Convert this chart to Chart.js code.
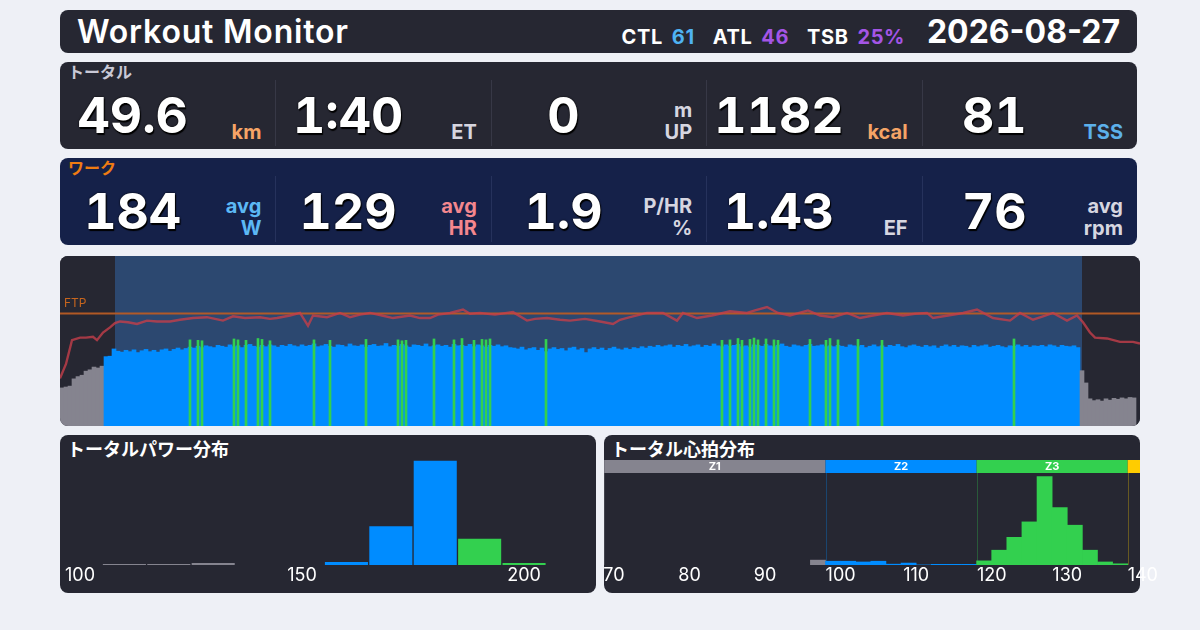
<!DOCTYPE html>
<html lang="ja">
<head>
<meta charset="utf-8">
<title>Workout Monitor</title>
<script src="https://cdn.jsdelivr.net/npm/chart.js@4.4.1/dist/chart.umd.min.js"></script>
<style>
  body { margin:0; width:1200px; height:630px; background:#eef0f6; position:relative; overflow:hidden;
         font-family: Inter, "Noto Sans CJK JP", sans-serif; }
  .panel { position:absolute; background:#262732; border-radius:8px; }
  #head { left:60px; top:10px; width:1077px; height:43px; }
  #head .title { position:absolute; left:17px; top:4px; font-size:32px; font-weight:600; color:#fff; line-height:36px; letter-spacing:0.8px; }
  #head .load { position:absolute; right:232px; top:15px; font-size:20px; font-weight:700; color:#fff; line-height:24px; white-space:nowrap; letter-spacing:0.6px; }
  #head .load span { margin-right:9px; }
  #head .load b { font-weight:700; margin-right:18px; }
  #head .date { position:absolute; right:17px; top:4px; font-size:32px; font-weight:700; color:#fff; line-height:36px; }
  .row { left:60px; width:1077px; height:87px; }
  .row .lbl { position:absolute; left:8px; top:0; font-size:16px; font-weight:700; line-height:19px; font-family:"Noto Sans CJK JP",sans-serif; }
  .cell { position:absolute; top:0; height:87px; }
  .cell .val { position:absolute; left:0; top:28px; line-height:50px; font-size:50px; font-weight:700; color:#fff; text-align:center;
               font-variant-numeric: tabular-nums; text-shadow: 0 0 2px #000, 1px 2px 1px #000; }
  .cell .unit { position:absolute; right:14px; bottom:6px; font-size:20px; font-weight:700; line-height:22px; text-align:right; }
  .sep { position:absolute; top:18px; width:1px; height:66px; }
  .jp { position:absolute; font-size:18px; font-weight:700; color:#fff; font-family:"Noto Sans CJK JP",sans-serif; line-height:22px; }
  .cv { position:absolute; }
</style>
</head>
<body>

<div class="panel" id="head">
  <div class="title">Workout Monitor</div>
  <div class="load"><span>CTL</span><b style="color:#4fb2f2">61</b><span>ATL</span><b style="color:#a455e6">46</b><span>TSB</span><b style="color:#a455e6;margin-right:0">25%</b></div>
  <div class="date">2026-08-27</div>
</div>

<div class="panel row" id="totalRow" style="top:62px"><div class="lbl" style="color:#c9c9d6">トータル</div></div>
<div class="panel row" id="workRow" style="top:158px;background:#152149"><div class="lbl" style="color:#f07c12">ワーク</div></div>

<div class="panel" style="left:60px;top:256px;width:1080px;height:170px;overflow:hidden">
  <canvas id="tsChart"></canvas>
</div>

<div class="panel" style="left:60px;top:435px;width:536px;height:158px"></div>
<div class="jp" style="left:67px;top:437px">トータルパワー分布</div>
<div class="cv" style="left:60px;top:455px;width:536px;height:135px"><canvas id="pwHist"></canvas></div>

<div class="panel" style="left:604px;top:435px;width:536px;height:158px"></div>
<div class="jp" style="left:611px;top:437px">トータル心拍分布</div>
<div class="cv" style="left:604px;top:460px;width:566px;height:130px"><canvas id="hrHist"></canvas></div>

<script>
// 上段の数値
const totalValues = ['49.6', '1:40', '0', '1182', '81'];
const totalUnits = [['km'], ['ET'], ['m', 'UP'], ['kcal'], ['TSS']];
const totalUnitColors = ['#f5a466', '#d6d6e0', '#d6d6e0', '#f5a466', '#5cb0ea'];
const workValues = ['184', '129', '1.9', '1.43', '76'];
const workUnits = [['avg', 'W'], ['avg', 'HR'], ['P/HR', '%'], ['EF'], ['avg', 'rpm']];
const workUnitColors = ['#5cb8f5', '#f4878e', '#d6d6e0', '#d6d6e0', '#d6d6e0'];

// パワー時系列 (24秒ごと, W)
const powerWatts = [
  84, 86, 88, 104, 109, 112, 121, 124, 130, 128, 132, 153, 154, 170,
  165, 163, 167, 164, 168, 162, 166, 169, 164, 167, 163, 168, 170, 165, 169, 172, 168, 171,
  174, 172, 176, 173, 177, 175, 173, 178, 176, 174, 179, 175, 177, 173, 178, 180, 176, 174, 178, 175, 179, 177, 174, 178, 176, 180,
  177, 175, 179, 176, 178, 181, 175, 177, 180, 176, 174, 179, 178, 175, 181, 177, 176, 179, 174, 178, 180, 176, 177, 182, 175, 178, 176, 180, 177, 174, 179, 178, 176, 181, 175, 177, 179, 176, 178, 174, 180, 177,
  178, 176, 180, 175, 179, 177, 174, 178, 176, 179, 175, 177, 173,
  172, 170, 174, 168, 171, 173, 167, 172, 164, 170, 173, 169, 171, 166, 172, 174, 168, 171, 162, 170, 173, 169, 172, 167, 171, 174, 170, 168, 172, 169, 173, 171, 175, 172,
  176, 174, 178, 175, 177, 179, 174, 178, 176, 180, 175, 177, 179, 174, 178, 176, 181, 177, 175, 179, 176, 178, 180, 175, 177, 174, 179, 178, 176, 180, 177, 175, 178, 181, 176, 174, 179, 177, 175, 178, 180, 176, 177, 179, 175,
  177, 175, 178, 176, 174, 179, 177, 175, 178, 173, 176, 179, 175, 177, 174, 178, 176, 180, 175, 173, 177, 179, 176, 174, 178, 175, 177, 172, 176, 179, 175, 178, 174, 177, 176, 173, 178, 175, 177, 179, 174, 176, 178, 175, 173, 177, 176, 179, 175, 178, 174, 177, 176, 178, 175, 179, 177, 174, 178, 176, 175, 177, 173,
  122, 95, 60, 56, 58, 55, 60, 57, 61, 59, 62, 60, 63, 62, null
];
// Z3 に入った短いスパイク (サンプル番号, W)
const spikeSlots = [32, 34, 35, 43, 44, 46, 49, 50, 52, 63, 67, 76, 84, 85, 86, 93, 98, 100, 103, 105,
                    106, 107, 121, 165, 167, 169, 170, 172, 173, 174, 176, 178, 179, 187, 191, 192, 194, 199, 205, 238];
const spikeWatts = [190, 189, 188, 192, 190, 189, 193, 191, 188, 190, 189, 191, 190, 188, 189, 192, 190, 193, 189, 191,
                    190, 192, 191, 189, 190, 193, 189, 191, 194, 190, 192, 190, 189, 191, 189, 193, 190, 191, 189, 192];

// 心拍 (分, bpm)
const hrMinutes = [0, 0.6, 1.2, 2.0, 2.6, 3.3, 3.7, 4.3, 5.0, 5.5, 6.0, 6.8, 7.7, 8.7, 9.7, 11.0, 12.0, 13.3, 14.7, 15.5,
  16.3, 17.3, 18.5, 20.0, 21.0, 21.7, 23.0, 24.0, 24.8, 25.3, 26.7, 28.0, 29.0, 30.0, 31.0, 32.2, 33.3, 35.0, 36.0, 37.0,
  37.8, 39.0, 40.3, 41.0, 42.0, 43.5, 45.3, 46.7, 47.5, 48.7, 50.0, 51.0, 52.5, 54.0, 55.3, 56.0, 57.0, 58.7, 60.3, 61.7,
  62.3, 63.7, 65.2, 67.0, 68.7, 69.5, 70.7, 71.8, 73.0, 74.8, 76.0, 77.3, 78.7, 80.0, 81.3, 82.7, 84.3, 85.5, 86.7, 87.3,
  88.8, 90.3, 91.7, 93.3, 95.0, 96.0, 97.3, 98.3, 99.3, 100.7, 101.7, 102.3, 103.0, 103.5, 104.7, 106.0, 107.3, 108.0];
const hrBpm = [56, 73, 101, 104, 104, 105, 101, 110, 116, 121, 123, 122, 120, 124, 123, 123, 125, 127, 128, 126,
  124, 129, 127, 128, 126, 127, 130, 133, 118, 130, 128, 133, 128, 131, 133, 130, 127, 130, 127, 127,
  131, 133, 137, 132, 133, 131, 134, 124, 126, 127, 125, 124, 126, 123, 120, 125, 128, 133, 133, 124,
  133, 127, 130, 135, 133, 136, 140, 133, 130, 136, 130, 128, 133, 127, 130, 133, 130, 132, 133, 127,
  130, 133, 137, 127, 124, 133, 125, 129, 133, 124, 130, 122, 110, 104, 103, 99, 99, 97];

const totalMinutes = 108;
const workStart = 5.5;
const workEnd = 102.2;
const ftp = 248;
const powerZoneEdges = [137, 186];

// パワー分布 (W, % 時間)
const powerBins = [110, 120, 130, 140, 150, 160, 170, 180, 190, 200];
const powerShare = [0.5, 0.5, 1.0, 0, 0, 1.5, 20, 54, 13.5, 1.0];
const powerTicks = [100, 150, 200];

// 心拍分布 (bpm, % 時間)
const hrBins = [97, 99, 101, 103, 105, 107, 109, 111, 113, 115, 117, 119, 121, 123, 125, 127, 129, 131, 133, 135, 137];
const hrShare = [1.3, 1.0, 1.0, 0.8, 1.0, 0.2, 0.5, 0, 0.15, 0.15, 0.15, 1.1, 4.0, 7.5, 11.7, 24.0, 15.6, 10.8, 4.0, 0.8, 0.3];
const hrTicks = [70, 80, 90, 100, 110, 120, 130, 140];
const hrZoneEdges = [68.7, 98, 118, 138, 160];
const hrZoneNames = ['Z1', 'Z2', 'Z3', 'Z4'];
const zoneColors = ['#85848f', '#008cff', '#33d04f', '#ffcc00'];

function buildRow(id, vals, units, colors, sepColor) {
    const row = document.getElementById(id);
    const w = 1077 / vals.length;
    vals.forEach((v, i) => {
        const cell = document.createElement('div');
        cell.className = 'cell';
        cell.style.left = (i * w) + 'px';
        cell.style.width = w + 'px';
        cell.innerHTML = `<div class="val" style="width:${w - 70}px">${v}</div>` +
            `<div class="unit" style="color:${colors[i]}">${units[i].join('<br>')}</div>`;
        row.appendChild(cell);
        if (i > 0) {
            const sep = document.createElement('div');
            sep.className = 'sep';
            sep.style.left = Math.round(i * w) + 'px';
            sep.style.background = sepColor;
            row.appendChild(sep);
        }
    });
}
buildRow('totalRow', totalValues, totalUnits, totalUnitColors, '#373846');
buildRow('workRow', workValues, workUnits, workUnitColors, '#26325c');

Chart.defaults.font.family = 'Inter, "Noto Sans CJK JP", sans-serif';
Chart.defaults.animation = false;

function powerColor(w) {
    if (w < powerZoneEdges[0]) return zoneColors[0];
    if (w < powerZoneEdges[1]) return zoneColors[1];
    return zoneColors[2];
}

const spikeSeries = powerWatts.map(() => null);
spikeSlots.forEach((s, i) => { spikeSeries[s] = spikeWatts[i]; });

// 背景 (ウォームアップ / ワーク / クールダウン) と FTP ライン
const tsBackdrop = {
    id: 'tsBackdrop',
    beforeDatasetsDraw(chart) {
        const { ctx, chartArea: a, scales } = chart;
        const x0 = scales.xt.getPixelForValue(workStart);
        const x1 = scales.xt.getPixelForValue(workEnd);
        ctx.save();
        ctx.fillStyle = '#262732';
        ctx.fillRect(a.left, a.top, a.width, a.height);
        ctx.fillStyle = '#2c4870';
        ctx.fillRect(x0, a.top, x1 - x0, a.height);
        const fy = scales.y.getPixelForValue(ftp);
        ctx.strokeStyle = 'rgba(184,92,36,0.95)';
        ctx.lineWidth = 2;
        ctx.beginPath();
        ctx.moveTo(a.left, fy);
        ctx.lineTo(a.right, fy);
        ctx.stroke();
        ctx.fillStyle = '#c8661e';
        ctx.font = '12px Inter';
        ctx.textBaseline = 'bottom';
        ctx.fillText('FTP', a.left + 4, fy - 4);
        ctx.restore();
    }
};

new Chart(document.getElementById('tsChart'), {
    type: 'bar',
    data: {
        labels: powerWatts.map((_, i) => i),
        datasets: [
            {
                type: 'line',
                label: '心拍',
                data: hrMinutes.map((m, i) => ({ x: m, y: hrBpm[i] })),
                xAxisID: 'xt',
                yAxisID: 'yHR',
                borderColor: 'rgba(196,62,74,0.8)',
                borderWidth: 2.4,
                pointRadius: 0,
                tension: 0,
                order: 0
            },
            {
                label: 'Z3',
                data: spikeSeries,
                backgroundColor: zoneColors[2],
                barThickness: 2,
                grouped: false,
                order: 1
            },
            {
                label: 'パワー',
                data: powerWatts,
                backgroundColor: powerWatts.map(powerColor),
                barPercentage: 1,
                categoryPercentage: 1,
                grouped: false,
                order: 2
            }
        ]
    },
    options: {
        responsive: true,
        maintainAspectRatio: false,
        layout: { padding: 0 },
        plugins: { legend: { display: false }, tooltip: { enabled: false } },
        scales: {
            x: { display: false },
            xt: { type: 'linear', display: false, min: 0, max: totalMinutes, offset: false },
            y: { display: false, min: 0, max: 375 },
            yHR: { display: false, min: 0, max: 200 }
        }
    },
    plugins: [tsBackdrop]
});

// 分布グラフ共通の x 軸
function histAxis(min, max, tickValues) {
    return {
        type: 'linear', min: min, max: max, offset: false, bounds: 'data',
        grid: { display: false, drawTicks: false }, border: { display: false },
        ticks: { color: '#ffffff', font: { size: 18 }, padding: 0, maxRotation: 0, autoSkip: false },
        afterBuildTicks: s => { s.ticks = tickValues.map(v => ({ value: v })); },
        afterFit: s => { s.paddingLeft = 0; s.paddingRight = 0; }
    };
}

new Chart(document.getElementById('pwHist'), {
    type: 'bar',
    data: {
        datasets: [{
            label: 'パワー分布',
            data: powerBins.map((b, i) => ({ x: b, y: powerShare[i] })),
            backgroundColor: powerBins.map(powerColor),
            barPercentage: 0.97,
            categoryPercentage: 1
        }]
    },
    options: {
        responsive: true,
        maintainAspectRatio: false,
        layout: { padding: { bottom: 3.5 } },
        plugins: { legend: { display: false }, tooltip: { enabled: false } },
        scales: {
            x: histAxis(95.5, 216.2, powerTicks),
            y: { display: false, min: 0, max: 57 }
        }
    }
});

// 心拍ゾーンの帯
const hrZoneBand = {
    id: 'hrZoneBand',
    beforeDatasetsDraw(chart, args, opts) {
        const { ctx, chartArea: a, scales } = chart;
        const x = scales.x;
        ctx.save();
        for (let i = 0; i < hrZoneNames.length; i++) {
            const p0 = Math.max(x.getPixelForValue(hrZoneEdges[i]), 0);
            const p1 = Math.min(x.getPixelForValue(hrZoneEdges[i + 1]), opts.right);
            if (p1 <= p0) continue;
            ctx.fillStyle = zoneColors[i];
            ctx.fillRect(p0, a.top - 13, p1 - p0, 13);
            if (p1 - p0 > 40) {
                ctx.fillStyle = '#ffffff';
                ctx.font = 'bold 11px Inter';
                ctx.textAlign = 'center';
                ctx.textBaseline = 'middle';
                ctx.fillText(hrZoneNames[i], (p0 + p1) / 2, a.top - 6);
            }
            ctx.globalAlpha = 0.3;
            ctx.fillStyle = zoneColors[i];
            ctx.fillRect(Math.round(p0), a.top, 1, a.height);
            ctx.globalAlpha = 1;
        }
        ctx.restore();
    }
};

new Chart(document.getElementById('hrHist'), {
    type: 'bar',
    data: {
        datasets: [{
            label: '心拍分布',
            data: hrBins.map((b, i) => ({ x: b, y: hrShare[i] })),
            backgroundColor: hrBins.map(b => {
                const z = hrZoneEdges.findIndex(e => b < e) - 1;
                return zoneColors[Math.max(z, 0)];
            }),
            barPercentage: 1,
            categoryPercentage: 1
        }]
    },
    options: {
        responsive: true,
        maintainAspectRatio: false,
        layout: { padding: { top: 13, bottom: 3.5 } },
        plugins: { legend: { display: false }, tooltip: { enabled: false }, hrZoneBand: { right: 536 } },
        scales: {
            x: histAxis(68.68, 143.6, hrTicks),
            y: { display: false, min: 0, max: 25 }
        }
    },
    plugins: [hrZoneBand]
});
</script>
</body>
</html>
